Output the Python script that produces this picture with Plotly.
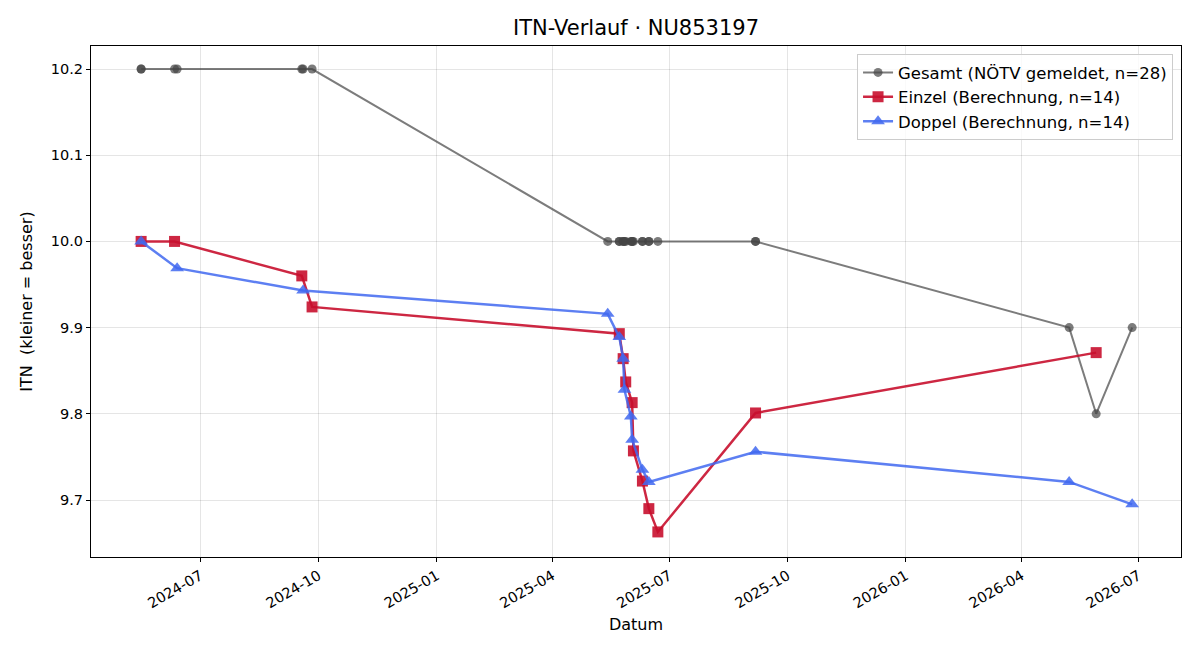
import plotly.graph_objects as go

# Einzel (single) ratings
einzel_dates = ["2024-05-16", "2024-06-11", "2024-09-18", "2024-09-26", "2025-05-23",
                "2025-05-26", "2025-05-28", "2025-06-02", "2025-06-03", "2025-06-10",
                "2025-06-15", "2025-06-22", "2025-09-06", "2026-05-29"]
einzel_vals = [10.0, 10.0, 9.960, 9.924, 9.893, 9.864, 9.837, 9.813, 9.757, 9.722,
               9.690, 9.663, 9.801, 9.871]

# Doppel (double) ratings
doppel_dates = ["2024-05-16", "2024-06-13", "2024-09-19", "2025-05-14", "2025-05-23",
                "2025-05-26", "2025-05-27", "2025-06-01", "2025-06-02", "2025-06-10",
                "2025-06-15", "2025-09-06", "2026-05-08", "2026-06-26"]
doppel_vals = [10.0, 9.969, 9.943, 9.916, 9.889, 9.864, 9.828, 9.797, 9.770, 9.735,
               9.721, 9.756, 9.721, 9.695]

# Gesamt (reported) ratings
gesamt_dates = ["2024-05-16", "2024-05-16", "2024-06-11", "2024-06-13", "2024-09-18",
                "2024-09-19", "2024-09-26", "2025-05-14", "2025-05-23", "2025-05-23",
                "2025-05-26", "2025-05-26", "2025-05-27", "2025-05-28", "2025-06-01",
                "2025-06-02", "2025-06-02", "2025-06-03", "2025-06-10", "2025-06-10",
                "2025-06-15", "2025-06-15", "2025-06-22", "2025-09-06", "2025-09-06",
                "2026-05-08", "2026-05-29", "2026-06-26"]
gesamt_vals = [10.2, 10.2, 10.2, 10.2, 10.2, 10.2, 10.2,
               10.0, 10.0, 10.0, 10.0, 10.0, 10.0, 10.0, 10.0, 10.0, 10.0, 10.0,
               10.0, 10.0, 10.0, 10.0, 10.0, 10.0, 10.0,
               9.9, 9.8, 9.9]

y_ticks = [9.7, 9.8, 9.9, 10.0, 10.1, 10.2]

FONT = "DejaVu Sans"

fig = go.Figure()
fig.add_trace(go.Scatter(
    x=gesamt_dates, y=gesamt_vals, mode="lines+markers",
    name="Gesamt (NÖTV gemeldet, n=28)",
    line=dict(color="rgba(68,68,68,0.7)", width=2),
    marker=dict(symbol="circle", size=9, color="rgba(68,68,68,0.7)"),
))
fig.add_trace(go.Scatter(
    x=einzel_dates, y=einzel_vals, mode="lines+markers",
    name="Einzel (Berechnung, n=14)",
    line=dict(color="rgba(200,16,46,0.9)", width=2.5),
    marker=dict(symbol="square", size=11, color="rgba(200,16,46,0.9)"),
))
fig.add_trace(go.Scatter(
    x=doppel_dates, y=doppel_vals, mode="lines+markers",
    name="Doppel (Berechnung, n=14)",
    line=dict(color="rgba(65,105,240,0.85)", width=2.5),
    marker=dict(symbol="triangle-up", size=12, color="rgba(65,105,240,0.85)"),
))

fig.update_layout(
    width=1200, height=660,
    margin=dict(l=91, r=19, t=46, b=103),
    paper_bgcolor="white", plot_bgcolor="white",
    font=dict(family=FONT, size=14, color="black"),
    title=dict(text="ITN-Verlauf · NU853197", x=0.53, xanchor="center",
               y=1 - 28 / 660, yanchor="middle", font=dict(size=21)),
    legend=dict(x=0.9927, xanchor="right", y=0.984, yanchor="top",
                bgcolor="rgba(255,255,255,0.8)", bordercolor="#cccccc", borderwidth=1,
                font=dict(size=16.5), tracegroupgap=0),
    showlegend=True,
)
fig.update_xaxes(
    type="date", range=["2024-04-07", "2026-08-03"],
    tickformat="%Y-%m", dtick="M3", tick0="2024-07-01", tickangle=-30,
    showline=True, linecolor="black", linewidth=1, mirror=True,
    ticks="outside", ticklen=4, tickcolor="black",
    showgrid=True, gridcolor="rgba(0,0,0,0.1)", zeroline=False,
    title=dict(text="Datum", font=dict(size=16), standoff=8),
    tickfont=dict(size=14.5),
)
fig.update_yaxes(
    range=[9.6339, 10.2267], tickvals=y_ticks, tickformat=".1f",
    showline=True, linecolor="black", linewidth=1, mirror=True,
    ticks="outside", ticklen=4, tickcolor="black",
    showgrid=True, gridcolor="rgba(0,0,0,0.1)", zeroline=False,
    title=dict(text="ITN \u00a0(kleiner = besser)", font=dict(size=16), standoff=14),
    tickfont=dict(size=14.5),
)

fig.write_html("out.html")
